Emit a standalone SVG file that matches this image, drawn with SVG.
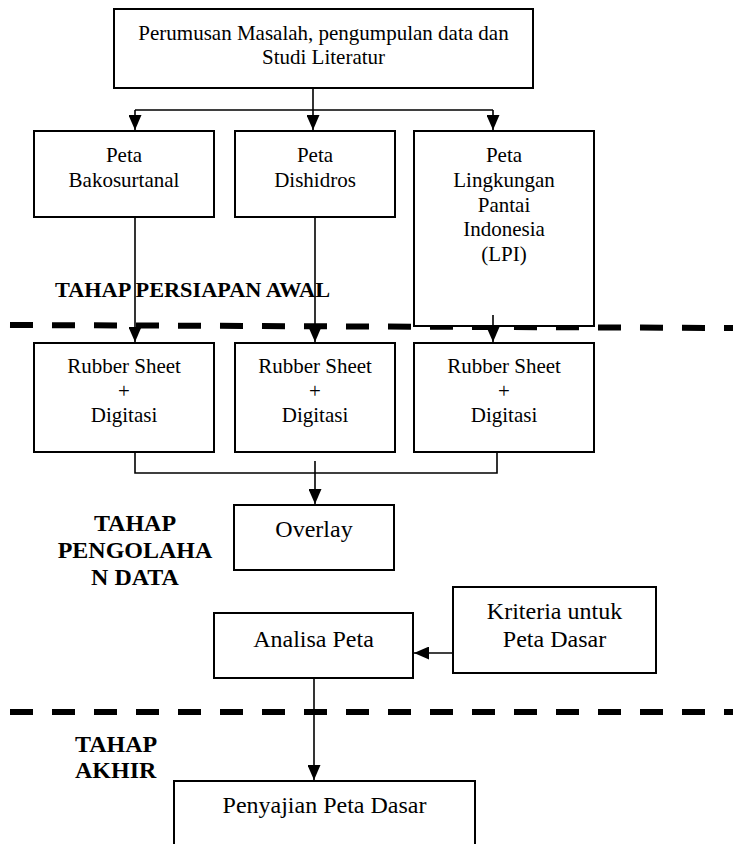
<svg xmlns="http://www.w3.org/2000/svg" width="739" height="844" viewBox="0 0 739 844">
<style>
text{font-family:'Liberation Serif',Tinos,'Times New Roman',Times,'DejaVu Serif',serif;fill:#000}
.box{fill:#fff;stroke:#000;stroke-width:2}
.t{font-size:21px;text-anchor:middle}
.tl{font-size:24px;text-anchor:middle}
.b{font-weight:bold}
.c{fill:none;stroke:#000;stroke-width:1.6}
.dash{fill:none;stroke:#000;stroke-width:6;stroke-dasharray:23 19}
</style>
<defs>
<marker id="ah" markerUnits="userSpaceOnUse" markerWidth="16" markerHeight="13" refX="15" refY="6.5" orient="auto">
<path d="M0,0 L15,6.5 L0,13 z" fill="#000"/>
</marker>
</defs>
<rect width="739" height="844" fill="#fff"/>

<g id="dividers">
<line class="dash" x1="10" y1="325" x2="733" y2="328"/>
<line class="dash" x1="10" y1="712" x2="733" y2="712"/>
</g>

<g id="labels">
<text class="b" x="55" y="297" font-size="21.5" textLength="275" lengthAdjust="spacingAndGlyphs">TAHAP PERSIAPAN AWAL</text>
<text class="b" font-size="24" text-anchor="middle"><tspan x="135" y="531">TAHAP</tspan><tspan x="135" y="558">PENGOLAHA</tspan><tspan x="135" y="585">N DATA</tspan></text>
<text class="b" font-size="24"><tspan x="75" y="752">TAHAP</tspan><tspan x="75" y="778">AKHIR</tspan></text>
</g>

<g id="n-perumusan">
<rect class="box" x="114" y="9" width="419" height="79"/>
<text class="t"><tspan x="323.5" y="40">Perumusan Masalah, pengumpulan data dan</tspan><tspan x="323.5" y="64">Studi Literatur</tspan></text>
</g>

<g id="n-bakosurtanal">
<rect class="box" x="34" y="131" width="180" height="86"/>
<text class="t"><tspan x="124" y="162">Peta</tspan><tspan x="124" y="187">Bakosurtanal</tspan></text>
</g>
<g id="n-dishidros">
<rect class="box" x="235" y="131" width="160" height="86"/>
<text class="t"><tspan x="315" y="162">Peta</tspan><tspan x="315" y="187">Dishidros</tspan></text>
</g>
<g id="n-lpi">
<rect class="box" x="414" y="131" width="180" height="195"/>
<text class="t"><tspan x="504" y="162">Peta</tspan><tspan x="504" y="187">Lingkungan</tspan><tspan x="504" y="212">Pantai</tspan><tspan x="504" y="236">Indonesia</tspan><tspan x="504" y="261">(LPI)</tspan></text>
</g>

<g id="n-rs1">
<rect class="box" x="34" y="343" width="180" height="109"/>
<text class="t"><tspan x="124" y="373">Rubber Sheet</tspan><tspan x="124" y="398">+</tspan><tspan x="124" y="422">Digitasi</tspan></text>
</g>
<g id="n-rs2">
<rect class="box" x="235" y="343" width="160" height="109"/>
<text class="t"><tspan x="315" y="373">Rubber Sheet</tspan><tspan x="315" y="398">+</tspan><tspan x="315" y="422">Digitasi</tspan></text>
</g>
<g id="n-rs3">
<rect class="box" x="414" y="343" width="180" height="109"/>
<text class="t"><tspan x="504" y="373">Rubber Sheet</tspan><tspan x="504" y="398">+</tspan><tspan x="504" y="422">Digitasi</tspan></text>
</g>

<g id="n-overlay">
<rect class="box" x="234" y="505" width="160" height="65"/>
<text class="tl" x="314" y="537">Overlay</text>
</g>

<g id="n-kriteria">
<rect class="box" x="453" y="587" width="203" height="86"/>
<text class="tl"><tspan x="554.5" y="619">Kriteria untuk</tspan><tspan x="554.5" y="647">Peta Dasar</tspan></text>
</g>

<g id="n-analisa">
<rect class="box" x="214" y="613" width="199" height="65"/>
<text class="tl" x="313.5" y="647">Analisa Peta</text>
</g>

<g id="n-penyajian">
<rect class="box" x="174" y="781" width="301" height="80"/>
<text class="tl" x="324.5" y="813">Penyajian Peta Dasar</text>
</g>

<g id="connectors">
<path class="c" d="M313,88 V110 M135,110 H493"/>
<path class="c" d="M135,110 V130" marker-end="url(#ah)"/>
<path class="c" d="M313,110 V130" marker-end="url(#ah)"/>
<path class="c" d="M493,110 V130" marker-end="url(#ah)"/>
<path class="c" d="M135,217 V342" marker-end="url(#ah)"/>
<path class="c" d="M315,217 V342" marker-end="url(#ah)"/>
<path class="c" d="M493,315 V342" marker-end="url(#ah)"/>
<path class="c" d="M135,452 V473 H497 V452"/>
<path class="c" d="M315,461 V504" marker-end="url(#ah)"/>
<path class="c" d="M453,653 H414" marker-end="url(#ah)"/>
<path class="c" d="M314,678 V780" marker-end="url(#ah)"/>
</g>
</svg>
